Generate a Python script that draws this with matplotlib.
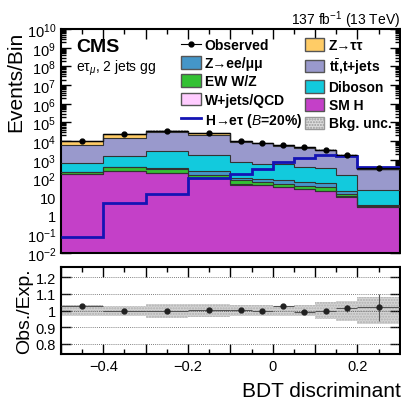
import numpy as np
import matplotlib
matplotlib.use("Agg")
import matplotlib.pyplot as plt
from matplotlib.patches import Patch
from matplotlib.lines import Line2D
from matplotlib.ticker import FixedLocator, MultipleLocator, FixedFormatter, FuncFormatter, LogLocator, NullFormatter

plt.rcParams['font.family'] = ['Liberation Sans', 'DejaVu Sans']
plt.rcParams['mathtext.fontset'] = 'custom'
plt.rcParams['mathtext.rm'] = 'Liberation Sans'
plt.rcParams['mathtext.it'] = 'Liberation Sans:italic'
plt.rcParams['mathtext.bf'] = 'Liberation Sans:bold'

# bin edges of the BDT discriminant
edges = [-0.5, -0.4, -0.3, -0.2, -0.1, -0.05, 0.0, 0.05, 0.1, 0.15, 0.2, 0.3]

# background components (events per bin), stacked bottom -> top
sm_h    = [180, 250, 195, 110, 47, 42, 33, 27, 22, 10.7, 2.9]
wjets   = [2, 3, 3, 2, 1, 1, 1, 0.5, 0.5, 0.3, 0.1]
ew_wz   = [40, 137, 142, 46, 30, 20, 16, 10.5, 10.5, 3, 0.5]
z_ll    = [2, 3, 3, 92, 32, 26, 28, 25, 22, 8, 0.5]
diboson = [465, 1240, 2460, 1600, 680, 541, 482, 357, 315, 126, 21]
ttbar   = [5310, 12370, 26200, 18750, 8210, 6970, 5040, 3980, 2930, 1550, 295]
z_tautau = [4000, 9000, 8000, 5900, 1000, 500, 400, 300, 200, 150, 20]

# signal H->etau (B=20%)
signal = [0.07, 5, 15, 100, 180, 340, 750, 1300, 1850, 1500, 415]

# observed / expected ratio and uncertainties
ratio     = [1.026, 0.998, 0.998, 1.002, 1.006, 0.996, 1.028, 0.992, 0.998, 1.014, 1.02]
ratio_err = [0.008, 0.006, 0.005, 0.005, 0.008, 0.009, 0.01, 0.01, 0.012, 0.022, 0.08]
bkg_unc   = [0.035, 0.03, 0.042, 0.037, 0.032, 0.032, 0.03, 0.035, 0.05, 0.06, 0.083]

edges = np.array(edges)
centers = 0.5 * (edges[:-1] + edges[1:])
halfw = 0.5 * (edges[1:] - edges[:-1])

c_smh, c_wj, c_ew, c_zll, c_vv, c_tt, c_ztt = '#c440c8', '#ffccff', '#33c133', '#4496c8', '#12cadd', '#9999cc', '#ffcc66'
c_sig = '#1414b4'

components = [
    (sm_h, c_smh), (wjets, c_wj), (ew_wz, c_ew), (z_ll, c_zll),
    (diboson, c_vv), (ttbar, c_tt), (z_tautau, c_ztt),
]

total = np.zeros(len(centers))
for vals, _ in components:
    total += np.array(vals)
observed = total * np.array(ratio)

fig = plt.figure(figsize=(4.01, 4.02), dpi=100)
ax = fig.add_axes([0.152, 0.368, 0.845, 0.557])
rax = fig.add_axes([0.152, 0.117, 0.845, 0.216])

base = np.full(len(centers), 1e-3)
for vals, col in components:
    top = base + np.array(vals)
    ax.stairs(top, edges, baseline=base, fill=True, color=col, zorder=2)
    ax.stairs(top, edges, baseline=None, color='#333333', lw=0.8, zorder=3)
    base = top

unc = np.array(bkg_unc)
ax.stairs(total * (1 + unc), edges, baseline=total * (1 - unc), fill=True,
          facecolor='none', edgecolor='#888888', hatch='......', lw=0, zorder=4)
ax.stairs(total, edges, baseline=None, color='#222222', lw=1.0, zorder=4)

ax.stairs(signal, edges, baseline=None, color=c_sig, lw=2.0, zorder=5)
ax.errorbar(centers, observed, xerr=halfw, yerr=np.sqrt(observed), fmt='o',
            color='black', ms=3.5, lw=0.8, zorder=6)

ax.set_yscale('log')
ax.set_ylim(1e-2, 1e10)
ax.set_xlim(-0.5, 0.3)
decades = list(range(-2, 11))
ylabels = []
for d in decades:
    if d == 0:
        ylabels.append('1')
    elif d == 1:
        ylabels.append('10')
    else:
        ylabels.append(r'$10^{%d}$' % d)
ax.yaxis.set_major_locator(FixedLocator([10.0 ** d for d in decades]))
ax.yaxis.set_major_formatter(FixedFormatter(ylabels))
ax.yaxis.set_minor_locator(LogLocator(base=10, subs=np.arange(2, 10), numticks=50))
ax.yaxis.set_minor_formatter(NullFormatter())
ax.xaxis.set_major_locator(MultipleLocator(0.1))
ax.xaxis.set_minor_locator(MultipleLocator(0.05))
ax.set_xticklabels([])

for a in (ax, rax):
    a.tick_params(which='both', direction='in', top=True, right=True, labelsize=10.5, width=1.0)
    a.tick_params(which='major', length=7)
    a.tick_params(which='minor', length=3.5)
    for s in a.spines.values():
        s.set_linewidth(1.5)

fig.text(0.04, 0.797, 'Events/Bin', rotation=90, ha='center', va='center', fontsize=15)
ax.text(0.045, 0.962, 'CMS', transform=ax.transAxes, fontsize=14, fontweight='bold', va='top')
ax.text(0.045, 0.872, 'e\u03c4$_{\\mu}$, 2 jets gg', transform=ax.transAxes, fontsize=10, va='top')
fig.text(0.997, 0.937, r'137 fb$^{-1}$ (13 TeV)', ha='right', va='baseline', fontsize=10)

leg_kw = dict(loc='upper left', frameon=False, prop={'weight': 'bold', 'size': 10},
              handlelength=1.4, handleheight=1.0, handletextpad=0.3, labelspacing=0.3,
              borderaxespad=0.0, borderpad=0.0)
h1 = [
    Line2D([], [], color='black', marker='o', ms=3.5, lw=0.8),
    Patch(facecolor=c_zll, edgecolor='#555555'),
    Patch(facecolor=c_ew, edgecolor='#555555'),
    Patch(facecolor=c_wj, edgecolor='#555555'),
    Line2D([], [], color=c_sig, lw=2.0),
]
l1 = ['Observed', 'Z\u2192ee/\u03bc\u03bc', 'EW W/Z', 'W+jets/QCD',
      'H\u2192e\u03c4 ($\\mathit{B}$=20%)']
h2 = [
    Patch(facecolor=c_ztt, edgecolor='#555555'),
    Patch(facecolor=c_tt, edgecolor='#555555'),
    Patch(facecolor=c_vv, edgecolor='#555555'),
    Patch(facecolor=c_smh, edgecolor='#555555'),
    Patch(facecolor='#dddddd', edgecolor='#999999', hatch='......'),
]
l2 = ['Z\u2192\u03c4\u03c4', 't$\\bar{\\mathbf{t}}$,t+jets', 'Diboson', 'SM H', 'Bkg. unc.']
leg1 = ax.legend(h1, l1, bbox_to_anchor=(0.355, 0.96), **leg_kw)
ax.add_artist(leg1)
ax.legend(h2, l2, bbox_to_anchor=(0.72, 0.96), **leg_kw)

# ratio panel
rax.stairs(1 + unc, edges, baseline=1 - unc, fill=True, facecolor='#d4d4d4',
           edgecolor='#b0b0b0', hatch='......', lw=0, zorder=1)
for yv in [0.8, 0.9, 1.0, 1.1, 1.2]:
    rax.axhline(yv, color='#555555', lw=0.6, ls=(0, (1, 1.5)), zorder=2)
rax.errorbar(centers, ratio, xerr=halfw, yerr=ratio_err, fmt='o', color='#222222',
             ecolor='#555555', ms=3.5, lw=0.8, zorder=3)
rax.set_xlim(-0.5, 0.3)
rax.set_ylim(0.74, 1.26)
rax.yaxis.set_major_locator(FixedLocator([0.8, 0.9, 1.0, 1.1, 1.2]))
rax.yaxis.set_major_formatter(FixedFormatter(['0.8', '0.9', '1', '1.1', '1.2']))
rax.xaxis.set_major_locator(MultipleLocator(0.1))
rax.xaxis.set_minor_locator(MultipleLocator(0.05))

def xfmt(v, pos):
    k = int(round(v * 10))
    if k % 2 != 0:
        return ''
    if k == 0:
        return '0'
    return ('%.1f' % v).replace('-', '\u2212')

rax.xaxis.set_major_formatter(FuncFormatter(xfmt))
rax.set_ylabel('Obs./Exp.', fontsize=14, labelpad=2)
fig.text(0.999, 0.0124, 'BDT discriminant', ha='right', va='baseline', fontsize=15)

fig.savefig('out.png', dpi=100)
